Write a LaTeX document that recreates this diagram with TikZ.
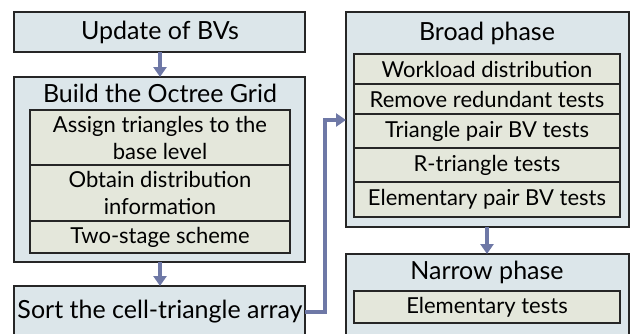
\documentclass[tikz,border=0pt]{standalone}
\usepackage{fontspec}
\setmainfont{Lato}
\usetikzlibrary{arrows.meta}
\definecolor{outerfill}{HTML}{DCE6EA}
\definecolor{innerfill}{HTML}{E4E7DB}
\definecolor{flowblue}{HTML}{6E78A6}
\tikzset{
  outerbox/.style={draw=black!85, line width=1.3pt, fill=outerfill},
  innerbox/.style={draw=black!85, line width=1.2pt, fill=innerfill},
  titletext/.style={font=\fontsize{25}{27}\selectfont, inner sep=0pt},
  itemtext/.style={font=\fontsize{22}{27}\selectfont, inner sep=0pt, align=center},
  flow/.style={draw=flowblue, line width=3.4pt, -{Triangle[length=10pt,width=13pt]}},
}
\begin{document}
\begin{tikzpicture}[x=1pt,y=-1pt]
\useasboundingbox (0,0) rectangle (630,333);

% left column
\draw[outerbox] (14,12) rectangle (305,52);
\node[titletext] (upd) at (160,32) {Update of BVs};
\coordinate (updB) at (160,52);

\draw[outerbox] (14,77) rectangle (305,262);
\coordinate (octT) at (160,77);
\coordinate (octB) at (160,262);
\node[titletext] (oct) at (160,93) {Build the Octree Grid};
\draw[innerbox] (30,110) rectangle (290,165);
\node[itemtext] (assign) at (160,138) {Assign triangles to the\\base level};
\draw[innerbox] (30,165) rectangle (290,221);
\node[itemtext] (obtain) at (160,193) {Obtain distribution\\information};
\draw[innerbox] (30,221) rectangle (290,253);
\node[itemtext] (two) at (160,237) {Two-stage scheme};

\draw[outerbox] (14,286) rectangle (305,336);
\coordinate (sortT) at (160,286);
\coordinate (sortR) at (305,312);
\node[titletext] (sort) at (160,312) {Sort the cell-triangle array};

% right column
\draw[outerbox] (346,12) rectangle (629,227);
\coordinate (broadL) at (346,120);
\coordinate (broadB) at (487,227);
\node[titletext] (broad) at (487,33) {Broad phase};
\draw[innerbox] (354,54) rectangle (620,84);
\node[itemtext] (work) at (487,69) {Workload distribution};
\draw[innerbox] (354,84) rectangle (620,114);
\node[itemtext] (remove) at (487,99) {Remove redundant tests};
\draw[innerbox] (354,114) rectangle (620,148);
\node[itemtext] (tripair) at (487,131) {Triangle pair BV tests};
\draw[innerbox] (354,148) rectangle (620,182);
\node[itemtext] (rtri) at (487,165) {R-triangle tests};
\draw[innerbox] (354,182) rectangle (620,217);
\node[itemtext] (elpair) at (487,199.5) {Elementary pair BV tests};

\draw[outerbox] (346,254) rectangle (629,340);
\coordinate (narrowT) at (487,254);
\node[titletext] (narrow) at (487,272) {Narrow phase};
\draw[innerbox] (354,291) rectangle (620,323);
\node[itemtext] (elem) at (487,307) {Elementary tests};

% connectors
\draw[flow] (updB) -- (octT);
\draw[flow] (octB) -- (sortT);
\draw[flow] (broadB) -- (narrowT);
\draw[flow, -] (sortR) -- (325,312) -- (325,120);
\draw[flow, shorten <=-1.7pt] (325,120) -- (broadL);
\end{tikzpicture}
\end{document}
